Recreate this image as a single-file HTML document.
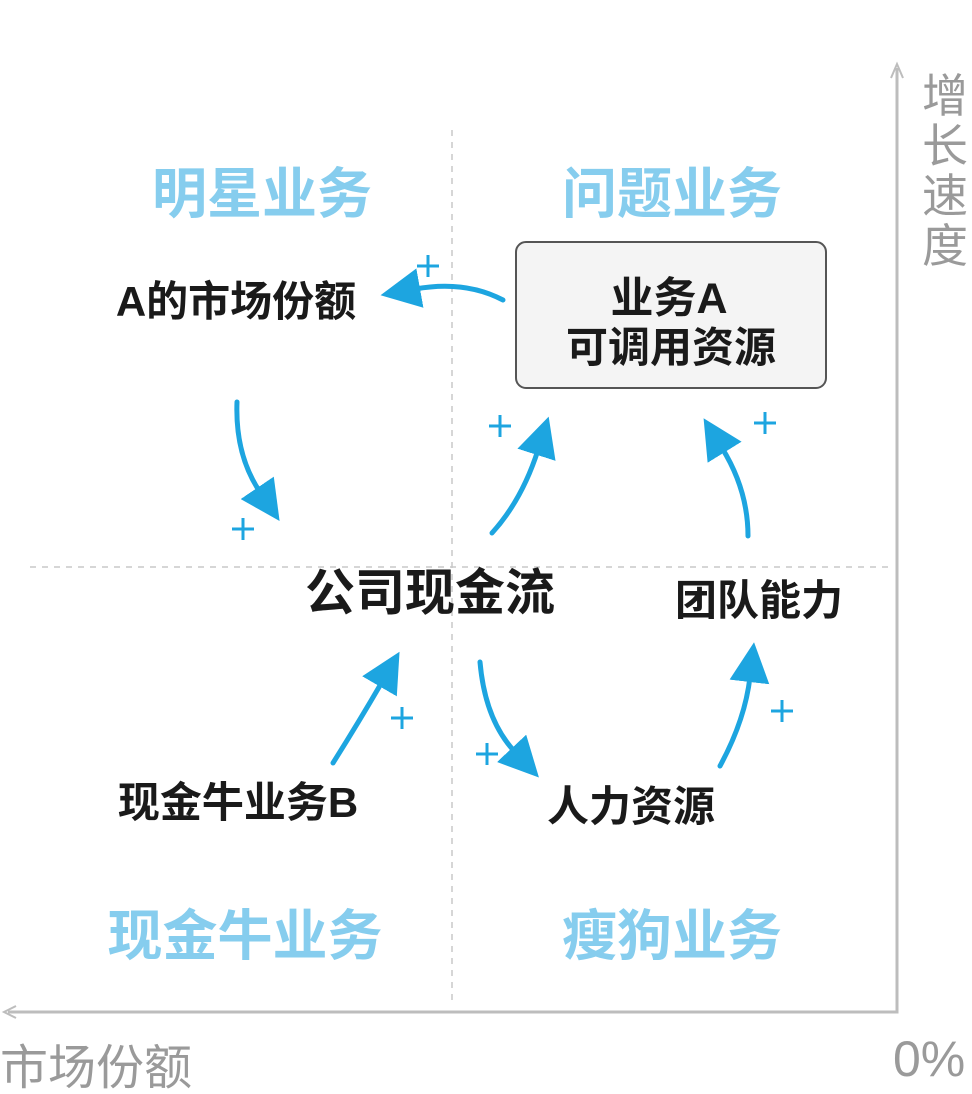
<!DOCTYPE html>
<html><head><meta charset="utf-8"><style>
html,body{margin:0;padding:0;background:#fff;}
svg{display:block}
text{font-family:"Liberation Sans","Noto Sans CJK SC",sans-serif;}
.q{fill:#86cdee;font-size:55px;font-weight:bold;text-anchor:middle}
.n{fill:#1a1a1a;font-size:42px;font-weight:bold;text-anchor:middle}
.g{fill:#9a9a9a;font-size:46px}
.a{fill:none;stroke:#1da5e0;stroke-width:5;stroke-linecap:round}
.p{stroke:#1da5e0;stroke-width:3}
</style></head><body>
<svg width="972" height="1094" viewBox="0 0 972 1094" xmlns="http://www.w3.org/2000/svg">
<defs>
<marker id="h" markerWidth="8" markerHeight="8" refX="1" refY="4" orient="auto" markerUnits="strokeWidth">
<path d="M0,0 L8,4 L0,8 Z" fill="#1da5e0"/>
</marker>
<g id="pl"><line class="p" x1="-11" y1="0" x2="11" y2="0"/><line class="p" x1="0" y1="-11" x2="0" y2="11"/></g>
</defs>
<line x1="452" y1="130" x2="452" y2="1000" stroke="#c8c8c8" stroke-width="1.5" stroke-dasharray="6,6"/>
<line x1="30" y1="567" x2="890" y2="567" stroke="#c8c8c8" stroke-width="1.5" stroke-dasharray="6,6"/>
<polyline points="897,68 897,1012 8,1012" fill="none" stroke="#bdbdbd" stroke-width="3"/>
<path d="M891,78 L897,64 L903,78" fill="none" stroke="#bdbdbd" stroke-width="2"/>
<path d="M16,1006 L4,1012 L16,1018" fill="none" stroke="#bdbdbd" stroke-width="2"/>
<text class="g" x="945" y="112" text-anchor="middle">增</text>
<text class="g" x="945" y="162" text-anchor="middle">长</text>
<text class="g" x="945" y="212" text-anchor="middle">速</text>
<text class="g" x="945" y="262" text-anchor="middle">度</text>
<text class="g" x="0" y="1084" style="font-size:48px">市场份额</text>
<text class="g" x="893" y="1076" style="font-size:50px">0%</text>
<text class="q" x="262" y="213">明星业务</text>
<text class="q" x="672" y="213">问题业务</text>
<text class="q" x="245" y="955">现金牛业务</text>
<text class="q" x="672" y="955">瘦狗业务</text>
<rect x="516" y="242" width="310" height="146" rx="10" fill="#f4f4f4" stroke="#555" stroke-width="2"/>
<text class="n" x="669" y="313" style="font-size:43px">业务A</text>
<text class="n" x="671" y="362" style="font-size:42px">可调用资源</text>
<text class="n" x="236" y="316">A的市场份额</text>
<text class="n" x="430" y="610" style="font-size:50px">公司现金流</text>
<text class="n" x="759" y="615">团队能力</text>
<text class="n" x="238" y="817">现金牛业务B</text>
<text class="n" x="631" y="821">人力资源</text>
<path class="a" marker-end="url(#h)" d="M503,300 Q465,280 415,289"/>
<path class="a" marker-end="url(#h)" d="M237,402 Q235,455 260,492"/>
<path class="a" marker-end="url(#h)" d="M492,533 Q522,500 538,450"/>
<path class="a" marker-end="url(#h)" d="M748,536 Q748,490 722,448"/>
<path class="a" marker-end="url(#h)" d="M333,763 Q360,720 382,682"/>
<path class="a" marker-end="url(#h)" d="M480,662 Q485,720 515,752"/>
<path class="a" marker-end="url(#h)" d="M720,766 Q745,720 750,677"/>
<use href="#pl" x="428" y="266"/>
<use href="#pl" x="500" y="426"/>
<use href="#pl" x="765" y="423"/>
<use href="#pl" x="243" y="529"/>
<use href="#pl" x="402" y="718"/>
<use href="#pl" x="487" y="754"/>
<use href="#pl" x="782" y="711"/>
</svg>
</body></html>
